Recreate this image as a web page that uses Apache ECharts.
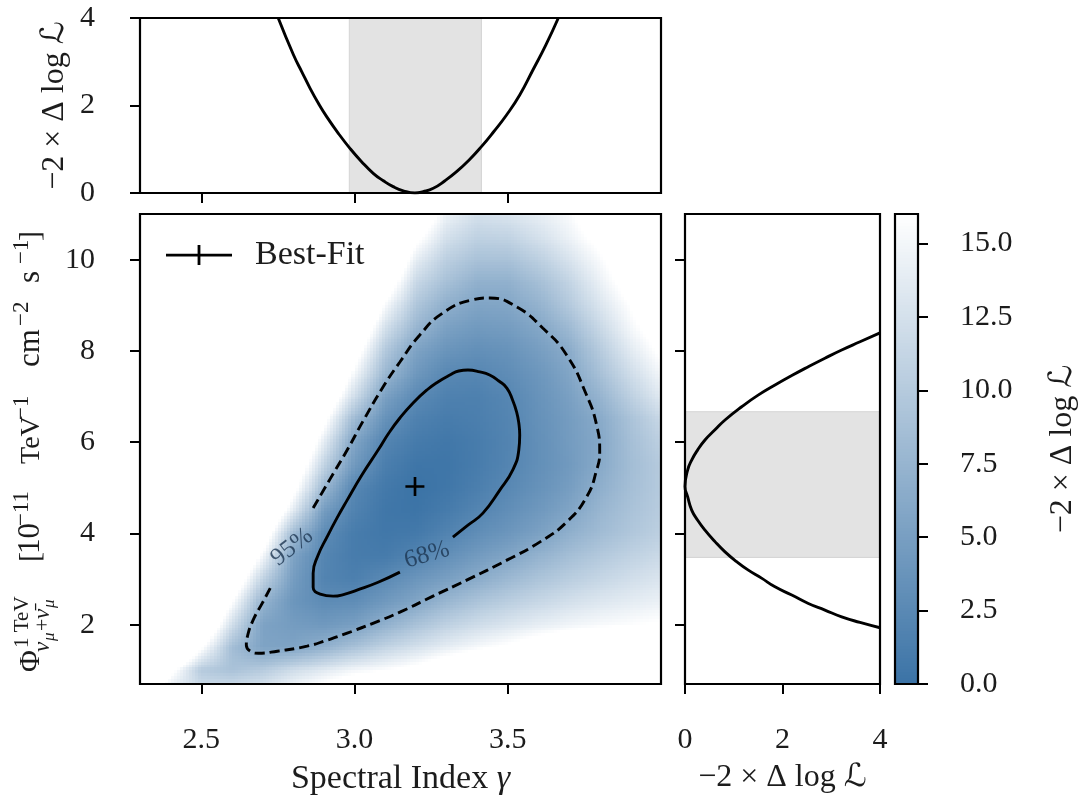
<!DOCTYPE html>
<html>
<head>
<meta charset="utf-8">
<style>html,body{margin:0;padding:0;background:#fff}#c{width:1080px;height:800px}</style>
<script src="https://cdn.jsdelivr.net/npm/echarts@6/dist/echarts.min.js"></script>
</head>
<body>
<div id="c"></div>
<script>
// ---------- data ----------
const gammaGrid = [2.3,2.4,2.5,2.6,2.7,2.8,2.9,3.0,3.1,3.2,3.3,3.4,3.5,3.6,3.7,3.8,3.9,4.0];
const phiGrid = [0.5,1,1.5,2,2.5,3,3.5,4,4.5,5,5.5,6,6.5,7,7.5,8,8.5,9,9.5,10,10.5,11];
// -2 x delta log L at each (phi row, gamma column); anything above 16 is off the colour scale (white)
const deltaLogL = [
 [18,12.5,12.5,13,14,16,18,20,22,24,26,28,30,32,34,36,38,40],
 [26,17,10,9,10,12,13.5,15,15.8,17,19,21,23,25,27,29,31,33],
 [34,25.5,16.5,8.5,5.5,5.5,7,9,11,12.5,14,15.3,16.5,18,19.5,21,22.5,24],
 [39,30,21.4,12.2,5.4,4.7,4.3,5,7,9,10.7,12,13,14,14.8,15.4,15.8,16.3],
 [43,34,25,16,7.3,4,2.8,3,4.3,5.7,7.7,9.2,10.4,11.4,12.4,13.2,13.8,14.4],
 [47,38,29,20.2,10.9,4.8,1.9,1.4,2.6,3.9,5,6.4,7.9,9.2,10.3,11.3,12.2,13],
 [51,42,33,24,15,5.5,2.1,1,0.9,1.9,3.2,4.5,5.7,7.2,8.6,9.8,10.8,11.7],
 [55,46,37,28,19,8.3,2.8,1,0.5,0.7,1.8,3,4,5.2,6.9,8.3,9.5,10.6],
 [59,50,41,32,22.7,13.7,4.7,1.7,0.4,0.15,0.9,2,3.1,4.2,5.6,7.6,9,10.2],
 [62,53,44,35,26,17.4,7.9,2.2,0.7,0,0.4,1.3,2.4,3.5,4.8,6.8,8.6,10],
 [65,56,47,38,29,20,11,4.3,1.3,0.3,0.3,1,2,3.2,4.4,6.2,8.4,10],
 [68,59,50,41,32,22.7,13.8,5.5,2,0.9,0.5,1,1.9,3.2,4.6,6,8.6,10.6],
 [71,62,53,44,35,26,17,8,3.5,1.6,1,1.3,2,3.4,4.7,6.3,9,11.5],
 [75,66,57,48,39,30,20.5,12,5.2,2.6,1.6,1.5,2.2,3.6,5.1,7.4,10.5,13.5],
 [78,69,60,51,42,33,24,15,7.8,4.2,2.4,2.2,2.9,4,5.7,8.8,12,15],
 [81,72,63,54,45,36,27,17.8,9.8,5.4,3.8,3.2,3.6,4.8,6.4,10,13.5,16.5],
 [84,75,66,57,48,39,30,21,12.5,7.6,5.2,4.4,4.7,5.8,8,11.5,15,18],
 [88,79,70,61,52,43,34,24.5,15.5,9.5,6.8,5.6,5.8,7.2,9.8,13,16,19.5],
 [91,82,73,64,55,46,37,28,19,11.5,8.8,7,7,8.6,11,14.3,17.5,20.5],
 [94,85,76,67,58,49,40,31,22,14,10.5,9,9,10.5,12.8,15.5,18.5,21.5],
 [98,89,80,71,62,53,44,35,26,17,12.5,10.8,11,12.5,14.5,17,20,23],
 [101,92,83,74,65,56,47,38,29,20,14.5,12.5,13,14,15.5,18.5,22,25]
];
const contour68 = [[3.321,3.919],[3.370,4.18],[3.419,4.445],[3.474,4.95],[3.516,5.388],[3.536,5.827],[3.539,6.156],[3.536,6.42],[3.529,6.660],[3.516,6.92],[3.497,7.186],[3.471,7.34],[3.441,7.471],[3.409,7.54],[3.370,7.581],[3.340,7.56],[3.311,7.471],[3.272,7.32],[3.236,7.143],[3.191,6.86],[3.148,6.529],[3.112,6.2],[3.077,5.827],[3.024,5.28],[2.976,4.730],[2.943,4.34],[2.910,3.919],[2.881,3.52],[2.865,3.129],[2.865,2.822],[2.888,2.669],[2.930,2.625],[2.969,2.67],[3.008,2.757],[3.077,2.93],[3.148,3.151]];
const contour95 = [[2.865,4.555],[2.920,5.19],[2.976,5.827],[3.028,6.463],[3.093,7.208],[3.148,7.757],[3.213,8.349],[3.288,8.831],[3.383,9.116],[3.441,9.160],[3.529,8.963],[3.614,8.502],[3.692,7.910],[3.757,7.033],[3.790,6.375],[3.800,5.783],[3.790,5.388],[3.757,4.796],[3.692,4.248],[3.604,3.809],[3.497,3.414],[3.366,2.976],[3.256,2.625],[3.148,2.274],[3.060,2.03],[2.976,1.814],[2.910,1.66],[2.845,1.529],[2.748,1.419],[2.686,1.375],[2.660,1.419],[2.647,1.550],[2.650,1.726],[2.669,2.099],[2.699,2.471],[2.725,2.800]];
const bestFit = [[3.197,5.03]];
const contourLabels = [[2.796,3.70,'95%',38],[3.236,3.524,'68%',16]];
const profileGamma = [[2.751,4.0],[2.801,3.154],[2.828,2.77],[2.855,2.393],[2.882,2.05],[2.909,1.745],[2.947,1.365],[2.985,1.021],[3.023,0.716],[3.061,0.450],[3.094,0.28],[3.126,0.145],[3.159,0.05],[3.197,0],[3.224,0.03],[3.257,0.107],[3.295,0.28],[3.333,0.488],[3.374,0.754],[3.414,1.059],[3.454,1.40],[3.496,1.783],[3.539,2.24],[3.582,2.811],[3.624,3.38],[3.665,4.0]];
const profilePhi = [[4,8.396],[3.59,8.20],[3.214,8.020],[2.87,7.84],[2.530,7.654],[2.19,7.46],[1.846,7.252],[1.50,7.03],[1.163,6.776],[0.821,6.485],[0.615,6.27],[0.410,6.046],[0.26,5.83],[0.137,5.607],[0.055,5.39],[0,5.03],[0.055,4.80],[0.137,4.511],[0.26,4.29],[0.410,4.072],[0.615,3.82],[0.821,3.596],[1.06,3.38],[1.299,3.195],[1.57,3.02],[1.846,2.829],[2.19,2.65],[2.530,2.465],[2.87,2.32],[3.214,2.171],[3.59,2.05],[4,1.933]];
const bandGamma = [2.983,3.414];
const bandPhi = [3.474,6.667];
const colorbarLevels = [0,1,2,3,4,5,6,7,8,9,10,11,12,13,14,15,16];
const gammaTicks = [2.5,3.0,3.5];
const phiTicks = [2,4,6,8,10];
const profileTicks = [0,2,4];
const colorbarTicks = [0,2.5,5,7.5,10,12.5,15];
const palette = ['#3b73a6','#ffffff'];
const scaleMax = 16;

// ---------- build ----------
const FONT = '"Liberation Serif","DejaVu Serif","DejaVu Sans",serif';
const INK = '#1c1c1c';
const TICK = 30, TITLE = 32;
const rich = {
  i:{fontFamily:FONT,fontStyle:'italic',fontSize:TITLE,color:INK},
  n:{fontFamily:FONT,fontSize:TITLE,color:INK},
  s:{fontFamily:FONT,fontSize:34,color:INK},
  g:{fontFamily:FONT,fontStyle:'italic',fontSize:34,color:INK}
};
const profileTitle = '{n|\u22122 \u00d7 \u0394 log }{i|\u2112}';

const cells = [];
for (let r=0;r<phiGrid.length-1;r++) for (let c=0;c<gammaGrid.length-1;c++){
  cells.push([gammaGrid[c],phiGrid[r],gammaGrid[c+1],phiGrid[r+1],
    deltaLogL[r][c],deltaLogL[r][c+1],deltaLogL[r+1][c],deltaLogL[r+1][c+1]]);
}
const barCells = [];
for (let i=0;i<colorbarLevels.length-1;i++){
  const a=colorbarLevels[i],b=colorbarLevels[i+1];
  barCells.push([0,a,1,b,a,a,b,b]);
}
// shades each read cell smoothly between its four corner readings, like an image drawn with bilinear display
function renderCell(params, api){
  const x0=api.value(0),y0=api.value(1),x1=api.value(2),y1=api.value(3);
  const v00=api.value(4),v10=api.value(5),v01=api.value(6),v11=api.value(7);
  const a=api.coord([x0,y0]), b=api.coord([x1,y1]);
  const cs=params.coordSys;
  const nx=Math.max(1,Math.round(Math.abs(b[0]-a[0])/3)), ny=Math.max(1,Math.round(Math.abs(b[1]-a[1])/3));
  const children=[];
  for(let i=0;i<nx;i++)for(let j=0;j<ny;j++){
    const u=(i+0.5)/nx,w=(j+0.5)/ny;
    const v=(v00*(1-u)+v10*u)*(1-w)+(v01*(1-u)+v11*u)*w;
    if(v>=scaleMax)continue;
    let px0=Math.round(a[0]+(b[0]-a[0])*i/nx),px1=Math.round(a[0]+(b[0]-a[0])*(i+1)/nx);
    let py0=Math.round(a[1]+(b[1]-a[1])*(j+1)/ny),py1=Math.round(a[1]+(b[1]-a[1])*j/ny);
    px0=Math.max(px0,cs.x);px1=Math.min(px1,cs.x+cs.width);
    py0=Math.max(py0,cs.y);py1=Math.min(py1,cs.y+cs.height);
    if(px1<=px0||py1<=py0)continue;
    children.push({type:'rect',shape:{x:px0,y:py0,width:px1-px0,height:py1-py0},
      style:{fill:echarts.color.lerp(Math.max(0,v)/scaleMax,palette)},silent:true});
  }
  return {type:'group',children};
}
const boxGrid = (left,top,width,height)=>({left,top,width,height,show:true,z:6,outerBoundsMode:'none',
  borderColor:'#000',borderWidth:2.2,backgroundColor:'transparent',containLabel:false});
const tickStyle = {show:true,length:10,lineStyle:{color:'#000',width:2}};
const lineOn = {show:true,onZero:false,lineStyle:{color:'#000',width:2}};
const labelStyle = {fontFamily:FONT,fontSize:TICK,color:INK};
const yLabelPad = {padding:[4,0,0,0]};
const CURVE = 2.9;

const yLabelPieces = [
 ['\u03a6',0,4,30,'normal'],
 ['1 TeV',24,-9,21,'normal'],
 ['\u03bd',20,12,23,'italic'],['\u03bc',31,16,17,'italic'],['+',41,12,22,'normal'],['\u03bd\u0304',53,12,23,'italic'],['\u03bc',64,16,17,'italic'],
 ['[',110,4,30,'normal'],['10',118,4,31,'normal'],['\u221211',146,-9,23,'normal'],
 ['TeV',208,4,28,'normal'],['\u22121',252,-9,23,'normal'],
 ['cm',305,4,31,'normal'],['\u22122',346,-9,23,'normal'],
 ['s',389,4,31,'normal'],['\u22121',408,-9,23,'normal'],[']',431,4,30,'normal']
];

const option = {
  animation:false,
  backgroundColor:'#fff',
  grid:[boxGrid(140,214,521,470),boxGrid(140,18,521,175),boxGrid(685,214,195,470),boxGrid(895,214,23,470)],
  xAxis:[
    {gridIndex:0,type:'value',min:2.3,max:4.0,splitLine:{show:false},axisLine:lineOn,
      axisTick:{...tickStyle,customValues:gammaTicks},
      axisLabel:{...labelStyle,margin:41,customValues:gammaTicks,formatter:v=>v.toFixed(1)},
      name:'{s|Spectral Index }{g|\u03b3}',nameLocation:'middle',nameGap:78,
      nameTextStyle:{fontFamily:FONT,fontSize:34,color:INK,rich}},
    {gridIndex:1,type:'value',min:2.3,max:4.0,splitLine:{show:false},axisLine:lineOn,
      axisTick:{...tickStyle,customValues:gammaTicks},axisLabel:{show:false}},
    {gridIndex:2,type:'value',min:0,max:4,splitLine:{show:false},axisLine:lineOn,
      axisTick:{...tickStyle,customValues:profileTicks},
      axisLabel:{...labelStyle,margin:41,customValues:profileTicks},
      name:profileTitle,nameLocation:'middle',nameGap:78,
      nameTextStyle:{fontFamily:FONT,fontSize:TITLE,color:INK,rich}},
    {gridIndex:3,type:'value',min:0,max:1,show:false}
  ],
  yAxis:[
    {gridIndex:0,type:'value',min:0.7,max:11,splitLine:{show:false},axisLine:lineOn,
      axisTick:{...tickStyle,customValues:phiTicks},
      axisLabel:{...labelStyle,...yLabelPad,margin:45,customValues:phiTicks}},
    {gridIndex:1,type:'value',min:0,max:4,splitLine:{show:false},axisLine:lineOn,
      axisTick:{...tickStyle,customValues:profileTicks},
      axisLabel:{...labelStyle,...yLabelPad,margin:45,customValues:profileTicks},
      name:profileTitle,nameLocation:'middle',nameRotate:90,nameGap:69,
      nameTextStyle:{fontFamily:FONT,fontSize:TITLE,color:INK,rich}},
    {gridIndex:2,type:'value',min:0.7,max:11,splitLine:{show:false},axisLine:lineOn,
      axisTick:{...tickStyle,customValues:phiTicks},axisLabel:{show:false}},
    {gridIndex:3,type:'value',min:0,max:16,position:'right',splitLine:{show:false},axisLine:lineOn,
      axisTick:{...tickStyle,customValues:colorbarTicks},
      axisLabel:{...labelStyle,...yLabelPad,margin:42,customValues:colorbarTicks,formatter:v=>v.toFixed(1)},
      name:profileTitle,nameLocation:'middle',nameRotate:90,nameGap:129,
      nameTextStyle:{fontFamily:FONT,fontSize:TITLE,color:INK,rich}}
  ],
  legend:{show:true,left:161,top:233,orient:'horizontal',itemWidth:66,itemHeight:20,
    data:[{name:'Best-Fit',icon:'path://M0 8.8 H66 V11.6 H0Z M31.6 0 H34.4 V20 H31.6Z'}],
    textStyle:{fontFamily:FONT,fontSize:34,color:INK,padding:[0,0,0,18]},itemStyle:{color:'#000'}},
  series:[
    {type:'custom',name:'logL',xAxisIndex:0,yAxisIndex:0,data:cells,renderItem:renderCell,clip:true,silent:true,z:1,progressive:0,
      dimensions:['a','b','c','d','e','f','g','h'],encode:{x:[0,2],y:[1,3]}},
    {type:'line',name:'68%',xAxisIndex:0,yAxisIndex:0,data:contour68,smooth:0.5,showSymbol:false,z:3,
      lineStyle:{color:'#000',width:CURVE}},
    {type:'line',name:'95%',xAxisIndex:0,yAxisIndex:0,data:contour95,smooth:0.5,showSymbol:false,z:3,
      lineStyle:{color:'#000',width:CURVE,type:[10,5]}},
    {type:'scatter',name:'Best-Fit',xAxisIndex:0,yAxisIndex:0,data:bestFit,z:4,symbol:'path://M0 8.7 H20 V11.5 H0Z M8.7 0 H11.5 V20 H8.7Z',symbolSize:19,
      itemStyle:{color:'#000',opacity:1}},
    {type:'scatter',name:'labels',xAxisIndex:0,yAxisIndex:0,data:contourLabels.map(d=>({value:[d[0],d[1]],
        label:{show:true,position:'inside',formatter:d[2],rotate:d[3],fontFamily:FONT,fontSize:25,color:'#1b3550'}})),
      symbolSize:1,itemStyle:{color:'transparent'},z:4},
    {type:'line',name:'profileGamma',xAxisIndex:1,yAxisIndex:1,data:profileGamma,smooth:0.5,showSymbol:false,clip:true,z:3,
      lineStyle:{color:'#000',width:CURVE},
      markArea:{silent:true,itemStyle:{color:'#e3e3e3',borderColor:'#d4d4d4',borderWidth:1},data:[[{xAxis:bandGamma[0]},{xAxis:bandGamma[1]}]]}},
    {type:'line',name:'profilePhi',xAxisIndex:2,yAxisIndex:2,data:profilePhi,smooth:0.5,showSymbol:false,clip:true,z:3,
      lineStyle:{color:'#000',width:CURVE},
      markArea:{silent:true,itemStyle:{color:'#e3e3e3',borderColor:'#d4d4d4',borderWidth:1},data:[[{yAxis:bandPhi[0]},{yAxis:bandPhi[1]}]]}},
    {type:'custom',name:'colorbar',xAxisIndex:3,yAxisIndex:3,data:barCells,renderItem:renderCell,clip:true,silent:true,z:1,
      dimensions:['a','b','c','d','e','f','g','h'],encode:{x:[0,2],y:[1,3]}}
  ],
  graphic:[{type:'group',x:42,y:672,rotation:Math.PI/2,silent:true,
    children:yLabelPieces.map(p=>({type:'text',x:p[1],y:p[2],style:{text:p[0],fontFamily:FONT,fontSize:p[3],fontStyle:p[4],fill:INK,textVerticalAlign:'bottom'}}))}]
};
const chart = echarts.init(document.getElementById('c'),null,{renderer:'canvas',width:1080,height:800});
chart.setOption(option);
</script>
</body>
</html>
